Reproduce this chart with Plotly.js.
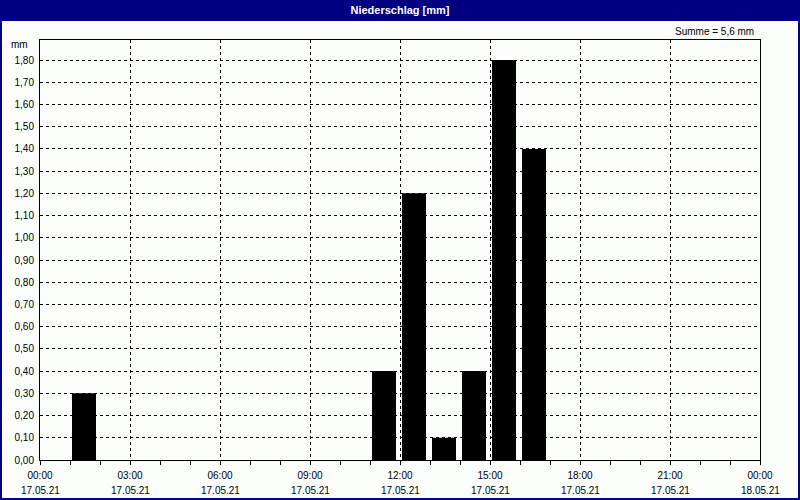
<!DOCTYPE html>
<html>
<head>
<meta charset="utf-8">
<script src="https://cdn.plot.ly/plotly-3.0.1.min.js"></script>
<style>
html,body{margin:0;padding:0;background:#fcfefc;}
#chart{width:800px;height:500px;}
</style>
</head>
<body>
<div id="chart"></div>
<script>
// Data: hourly precipitation (bar starts at given hour), mm
const hours = [1, 11, 12, 13, 14, 15, 16];
const precip = [0.3, 0.4, 1.2, 0.1, 0.4, 1.8, 1.4];
const tickHours = [0, 3, 6, 9, 12, 15, 18, 21, 24];
const tickTimes = ["00:00","03:00","06:00","09:00","12:00","15:00","18:00","21:00","00:00"];
const tickDates = ["17.05.21","17.05.21","17.05.21","17.05.21","17.05.21","17.05.21","17.05.21","17.05.21","18.05.21"];
const titleText = "Niederschlag [mm]";
const unitText = "mm";
const sumText = "Summe = 5,6 mm";

const W = 800, H = 500, L = 40, R = 40, T = 40, B = 40;
const pw = W - L - R, ph = H - T - B;
const px = v => (v - L) / pw;          // pixel x -> paper x
const py = v => (H - B - v) / ph;      // pixel y -> paper y

const minorVals = [];
for (let h = 0; h <= 24; h++) minorVals.push(h);

const font = "Liberation Sans, Arial, sans-serif";

const trace = {
  type: "bar",
  x: hours,
  y: precip,
  offset: 0.067,
  width: 0.8,
  marker: {color: "#000000", line: {width: 0}},
  hoverinfo: "skip"
};

const dateAnnotations = tickHours.map((h, i) => ({
  text: tickDates[i], xref: "x", yref: "paper", x: h, y: py(490),
  xanchor: "center", yanchor: "middle", showarrow: false,
  font: {family: font, size: 10, color: "#000"}
}));

const layout = {
  width: W, height: H,
  margin: {l: L, r: R, t: T, b: B, pad: 0},
  paper_bgcolor: "#fcfefc",
  plot_bgcolor: "#fcfefc",
  showlegend: false,
  font: {family: font, size: 10, color: "#000"},
  title: {
    text: "<b>" + titleText + "</b>",
    font: {family: font, size: 11, color: "#ffffff"},
    x: 0.5, xanchor: "center",
    y: 1 - 10 / H, yref: "container", yanchor: "middle"
  },
  xaxis: {
    range: [0, 24],
    tickmode: "array",
    tickvals: tickHours,
    ticktext: tickTimes,
    ticks: "outside", ticklen: 4, tickcolor: "#000", tickwidth: 1,
    showgrid: true, gridcolor: "#000", gridwidth: 1, griddash: "3px,3px",
    showline: true, linecolor: "#000", linewidth: 1, mirror: true,
    zeroline: false,
    tickfont: {family: font, size: 10, color: "#000"},
    ticklabelstandoff: 2,
    minor: {tickmode: "array", tickvals: minorVals, ticks: "outside", ticklen: 4, tickcolor: "#000", showgrid: false},
    fixedrange: true
  },
  yaxis: {
    range: [0, 1.89],
    tickmode: "linear", tick0: 0, dtick: 0.1,
    tickformat: ".2f",
    ticks: "",
    showgrid: true, gridcolor: "#000", gridwidth: 1, griddash: "3px,3px",
    showline: true, linecolor: "#000", linewidth: 1, mirror: true,
    zeroline: false,
    tickfont: {family: font, size: 10, color: "#000"},
    ticklabelstandoff: 3,
    fixedrange: true
  },
  separators: ",.",
  shapes: [
    {type: "rect", xref: "paper", yref: "paper", layer: "below",
     x0: px(0), x1: px(W), y0: py(H), y1: py(0),
     fillcolor: "#000080", line: {width: 0}},
    {type: "rect", xref: "paper", yref: "paper", layer: "below",
     x0: px(2), x1: px(W - 2), y0: py(H - 2), y1: py(21),
     fillcolor: "#fcfefc", line: {width: 0}}
  ],
  annotations: [
    {text: unitText, xref: "paper", yref: "paper", x: px(30), y: py(45),
     xanchor: "right", yanchor: "middle", showarrow: false,
     font: {family: font, size: 10, color: "#000"}},
    {text: sumText, xref: "paper", yref: "paper", x: px(756), y: py(31),
     xanchor: "right", yanchor: "middle", showarrow: false,
     font: {family: font, size: 10, color: "#000"}}
  ].concat(dateAnnotations)
};

Plotly.newPlot("chart", [trace], layout, {displayModeBar: false, staticPlot: true});
</script>
</body>
</html>
